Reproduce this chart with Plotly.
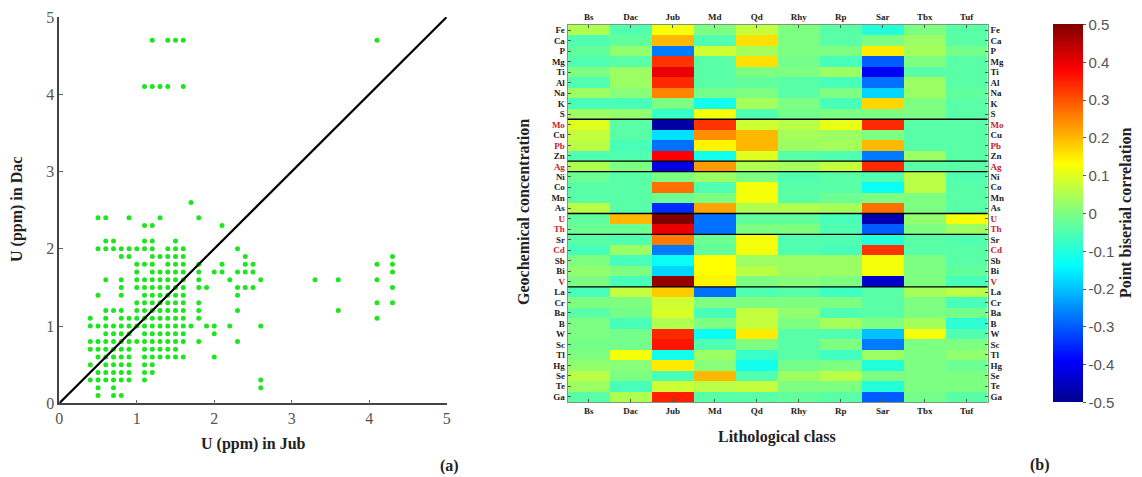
import plotly.graph_objects as go

# ---------------- (a) scatter data: U (ppm) in Dac levels and the Jub values at each level
dac_levels = [4.7, 4.1, 2.6, 2.4, 2.3, 2.1, 2.0, 1.9, 1.8, 1.7, 1.6, 1.5, 1.4, 1.3, 1.2, 1.1,
              1.0, 0.9, 0.8, 0.7, 0.6, 0.5, 0.4, 0.3, 0.2, 0.1]
jub_at_level = [
    [1.2, 1.4, 1.5, 1.6, 4.1],
    [1.1, 1.2, 1.3, 1.4, 1.6],
    [1.7],
    [0.5, 0.6, 0.9, 1.3, 1.8],
    [1.1, 1.2, 2.1],
    [0.6, 0.7, 1.1, 1.2, 1.5],
    [0.5, 0.6, 0.7, 0.8, 0.9, 1.0, 1.1, 1.2, 1.4, 1.5, 1.6, 2.3],
    [0.8, 0.9, 1.2, 1.3, 1.4, 1.5, 1.6, 2.4, 4.3],
    [1.0, 1.1, 1.2, 1.4, 1.5, 1.6, 1.8, 2.1, 2.4, 2.5, 4.1, 4.3],
    [1.0, 1.2, 1.3, 1.4, 1.5, 1.6, 1.8, 2.0, 2.1, 2.3, 2.4, 2.5, 4.3],
    [0.6, 0.8, 1.0, 1.1, 1.2, 1.3, 1.4, 1.5, 1.6, 1.8, 2.2, 2.6, 3.3, 3.6, 4.1],
    [0.8, 1.0, 1.1, 1.2, 1.3, 1.4, 1.5, 1.6, 1.8, 1.9, 2.3, 2.4, 2.5, 4.3],
    [0.5, 0.8, 1.1, 1.2, 1.3, 1.4, 1.5, 1.6, 2.3],
    [1.0, 1.1, 1.2, 1.3, 1.4, 1.5, 1.6, 1.8, 4.1, 4.3],
    [0.6, 0.7, 0.8, 1.0, 1.1, 1.2, 1.3, 1.4, 1.5, 1.6, 1.8, 2.3, 3.6],
    [0.4, 0.6, 0.8, 0.9, 1.0, 1.1, 1.2, 1.3, 1.4, 1.5, 1.6, 1.8, 4.1],
    [0.4, 0.5, 0.6, 0.7, 0.8, 0.9, 1.0, 1.1, 1.2, 1.3, 1.4, 1.5, 1.6, 1.7, 1.9, 2.0, 2.2, 2.6],
    [0.6, 0.7, 0.8, 0.9, 1.1, 1.2, 1.3, 1.4, 1.5, 1.6, 2.0],
    [0.4, 0.5, 0.6, 0.7, 0.8, 0.9, 1.0, 1.1, 1.2, 1.3, 1.4, 1.5, 1.6, 1.8, 2.3],
    [0.4, 0.5, 0.6, 0.7, 0.8, 0.9, 1.1, 1.2, 1.3, 1.4, 1.5],
    [0.5, 0.6, 0.7, 0.8, 0.9, 1.1, 1.2, 1.3, 1.4, 1.5, 1.6, 2.0],
    [0.4, 0.6, 0.7, 0.8, 0.9, 1.1, 1.2],
    [0.5, 0.6, 0.7, 0.8, 0.9, 1.1, 1.2],
    [0.4, 0.5, 0.6, 0.7, 0.8, 0.9, 1.1, 2.6],
    [0.5, 0.7, 2.6],
    [0.5, 0.7, 0.8],
]
ref_line = [0, 5]
scatter_ticks = [0, 1, 2, 3, 4, 5]

u_jub = [x for xs in jub_at_level for x in xs]
u_dac = [y for y, xs in zip(dac_levels, jub_at_level) for _ in xs]

# ---------------- (b) heatmap data
classes = ["Bs", "Dac", "Jub", "Md", "Qd", "Rhy", "Rp", "Sar", "Tbx", "Tuf"]
elements = ["Fe", "Ca", "P", "Mg", "Ti", "Al", "Na", "K", "S", "Mo", "Cu", "Pb", "Zn", "Ag",
            "Ni", "Co", "Mn", "As", "U", "Th", "Sr", "Cd", "Sb", "Bi", "V", "La", "Cr", "Ba",
            "B", "W", "Sc", "Tl", "Hg", "Se", "Te", "Ga"]
highlighted = ["Mo", "Pb", "Ag", "U", "Th", "Cd", "V"]
group_ends = ["S", "Zn", "Ag", "As", "Th", "V"]

bs  = [0.05, -0.05, -0.03, -0.05, 0.0, -0.05, 0.03, -0.06, 0.03, 0.10, 0.07, 0.06, -0.05, 0.05,
       -0.02, -0.04, -0.04, 0.06, -0.03, -0.02, -0.04, -0.06, 0.0, 0.02, 0.0, -0.06, 0.0, -0.04,
       0.0, 0.0, -0.01, 0.0, 0.02, 0.06, 0.03, -0.04]
dac = [-0.05, -0.03, 0.02, -0.04, 0.03, 0.03, 0.01, -0.06, 0.02, -0.04, -0.04, -0.06, -0.05, 0.0,
       -0.04, -0.04, -0.04, -0.04, 0.20, -0.02, -0.05, 0.03, -0.06, 0.0, -0.06, 0.07, 0.0, -0.01,
       -0.06, -0.01, -0.01, 0.12, 0.01, 0.0, -0.06, 0.05]
jub = [0.12, 0.20, -0.27, 0.33, 0.40, 0.34, 0.25, 0.0, -0.08, -0.48, -0.17, -0.28, 0.38, -0.42,
       0.0, 0.27, -0.02, -0.35, 0.50, 0.40, 0.26, -0.27, -0.13, -0.18, 0.48, 0.18, 0.08, 0.09,
       0.05, 0.34, 0.36, -0.12, 0.15, -0.06, 0.08, 0.35]
md  = [0.0, -0.05, 0.08, -0.04, -0.04, -0.04, -0.01, -0.12, 0.12, 0.33, 0.24, 0.14, -0.12, 0.23,
       0.03, -0.05, 0.0, 0.22, -0.28, -0.28, -0.02, -0.03, 0.13, 0.13, 0.14, -0.28, 0.0, -0.06,
       0.0, -0.13, -0.05, 0.03, 0.01, 0.20, 0.06, -0.04]
qd  = [0.07, 0.16, 0.04, 0.16, 0.0, -0.03, 0.0, 0.04, -0.05, 0.08, 0.20, 0.20, 0.10, 0.05,
       0.0, 0.12, 0.12, 0.05, -0.03, 0.0, 0.12, 0.12, 0.03, 0.06, 0.0, -0.05, 0.0, 0.07,
       0.07, 0.15, 0.0, -0.08, -0.12, -0.05, 0.07, -0.04]
rhy = [0.0, 0.0, 0.0, -0.01, 0.0, -0.04, -0.04, 0.0, -0.01, 0.06, 0.04, 0.03, -0.04, 0.04,
       -0.05, -0.04, -0.04, 0.05, -0.03, 0.0, -0.05, -0.05, 0.03, 0.03, 0.01, -0.04, 0.0, 0.02,
       0.0, -0.04, -0.04, -0.04, -0.01, 0.03, 0.0, -0.03]
rp  = [-0.04, -0.04, 0.0, -0.06, 0.03, -0.06, 0.0, -0.06, 0.0, 0.11, 0.03, 0.04, -0.05, 0.07,
       -0.04, -0.04, -0.02, 0.04, -0.06, -0.05, -0.05, -0.06, 0.03, 0.03, 0.0, -0.07, 0.0, -0.05,
       0.04, -0.05, 0.0, -0.07, 0.0, 0.06, 0.0, -0.04]
sar = [-0.10, 0.0, 0.15, -0.30, -0.40, -0.28, -0.18, 0.17, 0.0, 0.34, 0.0, 0.20, -0.27, 0.34,
       -0.05, -0.13, 0.0, 0.27, -0.47, -0.30, -0.10, 0.33, 0.12, 0.12, -0.44, -0.04, -0.04, -0.04,
       0.0, -0.20, -0.27, 0.03, -0.10, 0.0, -0.10, -0.30]
tbx = [0.0, 0.03, 0.04, 0.0, -0.04, 0.03, 0.03, 0.0, 0.0, -0.04, -0.04, -0.04, 0.03, -0.04,
       0.06, 0.06, 0.0, 0.0, 0.02, 0.0, -0.04, -0.04, 0.0, 0.0, 0.0, 0.04, 0.0, 0.0,
       0.04, 0.12, 0.0, 0.0, 0.0, 0.0, 0.0, -0.01]
tuf = [-0.04, -0.04, -0.01, -0.04, -0.04, -0.04, -0.03, -0.04, -0.04, -0.04, -0.04, -0.04, -0.04, -0.04,
       -0.05, -0.04, -0.04, -0.04, 0.12, 0.03, -0.05, -0.04, -0.04, -0.03, -0.06, 0.06, -0.06, -0.01,
       -0.09, -0.05, 0.0, 0.02, -0.02, 0.0, 0.0, -0.04]
cbar_ticks = [-0.5, -0.4, -0.3, -0.2, -0.1, 0, 0.1, 0.2, 0.3, 0.4, 0.5]

columns = [bs, dac, jub, md, qd, rhy, rp, sar, tbx, tuf]
z = [[col[i] for col in columns] for i in range(len(elements))]

serif = "Liberation Serif, Times New Roman, serif"
sans = "Liberation Sans, Arial, sans-serif"
red = "#c8202e"

row_labels = [f"<span style='color:{red}'>{e}</span>" if e in highlighted else e for e in elements]
col_idx = list(range(len(classes)))
row_idx = list(range(len(elements)))

jet = [[0.0, "#00008f"], [0.11, "#0000ff"], [0.36, "#00ffff"], [0.5, "#7dff82"],
       [0.63, "#ffff00"], [0.88, "#ff0000"], [1.0, "#800000"]]

fig = go.Figure()

fig.add_trace(go.Scatter(x=u_jub, y=u_dac, mode="markers",
                         marker=dict(color="#1ee61e", size=5), showlegend=False,
                         xaxis="x", yaxis="y"))
fig.add_trace(go.Scatter(x=ref_line, y=ref_line, mode="lines",
                         line=dict(color="black", width=2.2), showlegend=False,
                         xaxis="x", yaxis="y"))

fig.add_trace(go.Heatmap(z=z, x=col_idx, y=row_idx, colorscale=jet, zmin=-0.5, zmax=0.5,
                         xaxis="x2", yaxis="y2",
                         colorbar=dict(x=0.9136, xanchor="left", y=0.5525, yanchor="middle",
                                       len=378, lenmode="pixels", thickness=30, ypad=0,
                                       outlinewidth=0, tickvals=cbar_ticks,
                                       ticktext=[f"{t:g}" for t in cbar_ticks],
                                       ticks="outside", ticklen=3, tickcolor="#555",
                                       tickfont=dict(family=sans, size=15, color="#555"))))
# companion invisible trace to carry the top / right label axes
fig.add_trace(go.Scatter(x=col_idx, y=[row_idx[0]] * len(col_idx), mode="markers",
                         marker=dict(opacity=0), showlegend=False, hoverinfo="skip",
                         xaxis="x3", yaxis="y3"))

for name in group_ends:
    yb = elements.index(name) + 0.5
    fig.add_shape(type="line", xref="x2 domain", yref="y2", x0=0, x1=1, y0=yb, y1=yb,
                  line=dict(color="black", width=1.3))

tickfont_s = dict(family=serif, size=16, color="#555")
hm_font = dict(family=serif, size=9, color="#222", weight="bold")
frame = dict(showgrid=False, zeroline=False, showline=True, linecolor="#7a9a7a", linewidth=1,
             ticks="inside", ticklen=3, tickcolor="#555", tickfont=hm_font, automargin=False)

fig.update_layout(
    width=1142, height=477, margin=dict(l=0, r=0, t=0, b=0, autoexpand=False),
    paper_bgcolor="white", plot_bgcolor="white",
    xaxis=dict(domain=[0.0519, 0.3912], range=[0, 5], tickvals=scatter_ticks,
               showgrid=False, zeroline=False, showline=True, linecolor="#444", linewidth=1.5,
               ticks="inside", ticklen=4, tickcolor="#666", tickfont=tickfont_s, anchor="y",
               automargin=False),
    yaxis=dict(domain=[0.1545, 0.9644], range=[0, 5], tickvals=scatter_ticks,
               showgrid=False, zeroline=False, showline=True, linecolor="#444", linewidth=1.5,
               ticks="inside", ticklen=4, tickcolor="#666", tickfont=tickfont_s, anchor="x",
               automargin=False),
    xaxis2=dict(domain=[0.4971, 0.8649], range=[-0.5, 9.5], tickvals=col_idx, ticktext=classes,
                anchor="y2", **frame),
    yaxis2=dict(domain=[0.1572, 0.9476], range=[35.5, -0.5], tickvals=row_idx,
                ticktext=row_labels, anchor="x2", **frame),
    xaxis3=dict(overlaying="x2", side="top", range=[-0.5, 9.5], tickvals=col_idx,
                ticktext=classes, anchor="y3", **frame),
    yaxis3=dict(overlaying="y2", side="right", range=[35.5, -0.5], tickvals=row_idx,
                ticktext=row_labels, anchor="x3", **frame),
)

title_font = dict(family=serif, size=16, color="#222", weight="bold")
annos = [
    dict(text="U (ppm) in Jub", x=253 / 1142, y=1 - 444 / 477, font=title_font),
    dict(text="U (ppm) in Dac", x=17 / 1142, y=1 - 210 / 477, font=title_font, textangle=-90),
    dict(text="(a)", x=449 / 1142, y=1 - 466 / 477, font=title_font),
    dict(text="Geochemical concentration", x=523 / 1142, y=1 - 212 / 477, font=title_font,
         textangle=-90),
    dict(text="Lithological class", x=777 / 1142, y=1 - 437 / 477, font=title_font),
    dict(text="(b)", x=1040 / 1142, y=1 - 465 / 477, font=title_font),
    dict(text="Point biserial correlation", x=1125 / 1142, y=1 - 213 / 477, font=title_font,
         textangle=-90),
]
for a in annos:
    fig.add_annotation(xref="paper", yref="paper", showarrow=False,
                       xanchor="center", yanchor="middle", **a)

fig.write_html("out.html", config={"displayModeBar": False},
               post_script="document.body.style.margin='0';document.body.style.overflow='hidden';")
